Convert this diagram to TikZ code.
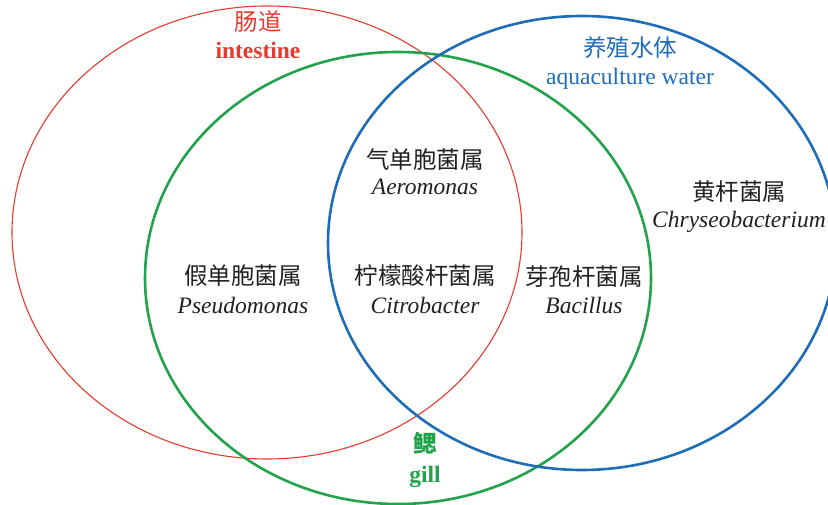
\documentclass[tikz,border=0pt]{standalone}
\usepackage{fontspec}
\setmainfont{Liberation Serif}
\newfontfamily\cjk{Noto Sans CJK SC}
\definecolor{cred}{HTML}{E8392D}
\definecolor{cgreen}{HTML}{22A24A}
\definecolor{cblue}{HTML}{1F6DB6}
\definecolor{ctext}{HTML}{231F20}
\begin{document}
\begin{tikzpicture}[x=1pt,y=-1pt,
  zh/.style={font=\cjk\fontsize{23.5}{27}\selectfont, inner sep=0pt, anchor=center, text=ctext},
  la/.style={font=\fontsize{23.5}{28}\selectfont\itshape, inner sep=0pt, anchor=base, text=ctext}]
\useasboundingbox (0,0) rectangle (828,505);
\clip (0,0) rectangle (828,505);
\draw[cred, line width=1.1pt] (267,232.5) ellipse [x radius=255, y radius=226.5];
\draw[cgreen, line width=2.6pt] (398,278) ellipse [x radius=253, y radius=226];
\draw[cblue, line width=2.6pt] (582,243) ellipse [x radius=254, y radius=227];
% set labels
\node[zh, text=cred] (intzh) at (258,22) {肠道};
\node[la, text=cred, font=\fontsize{23.5}{28}\selectfont\bfseries] (inten) at (258,59) {intestine};
\node[zh, text=cblue] (waterzh) at (630,48) {养殖水体};
\node[la, text=cblue, font=\fontsize{23.5}{28}\selectfont] (wateren) at (630,85) {aquaculture water};
\node[zh, text=cgreen, font=\cjk\bfseries\fontsize{23.5}{27}\selectfont] (gillzh) at (425,443) {鳃};
\node[la, text=cgreen, font=\fontsize{23.5}{28}\selectfont\bfseries] (gillen) at (425,482) {gill};
% genera
\node[zh] (aerozh) at (425,160) {气单胞菌属};
\node[la] (aeroen) at (425,195) {Aeromonas};
\node[zh] (chryzh) at (739,192) {黄杆菌属};
\node[la] (chryen) at (739,228) {Chryseobacterium};
\node[zh] (pseuzh) at (243,276) {假单胞菌属};
\node[la] (pseuen) at (243,313) {Pseudomonas};
\node[zh] (citrzh) at (425,276) {柠檬酸杆菌属};
\node[la] (citren) at (425,313) {Citrobacter};
\node[zh] (baczh) at (584,277) {芽孢杆菌属};
\node[la] (bacen) at (584,314) {Bacillus};
\end{tikzpicture}
\end{document}
